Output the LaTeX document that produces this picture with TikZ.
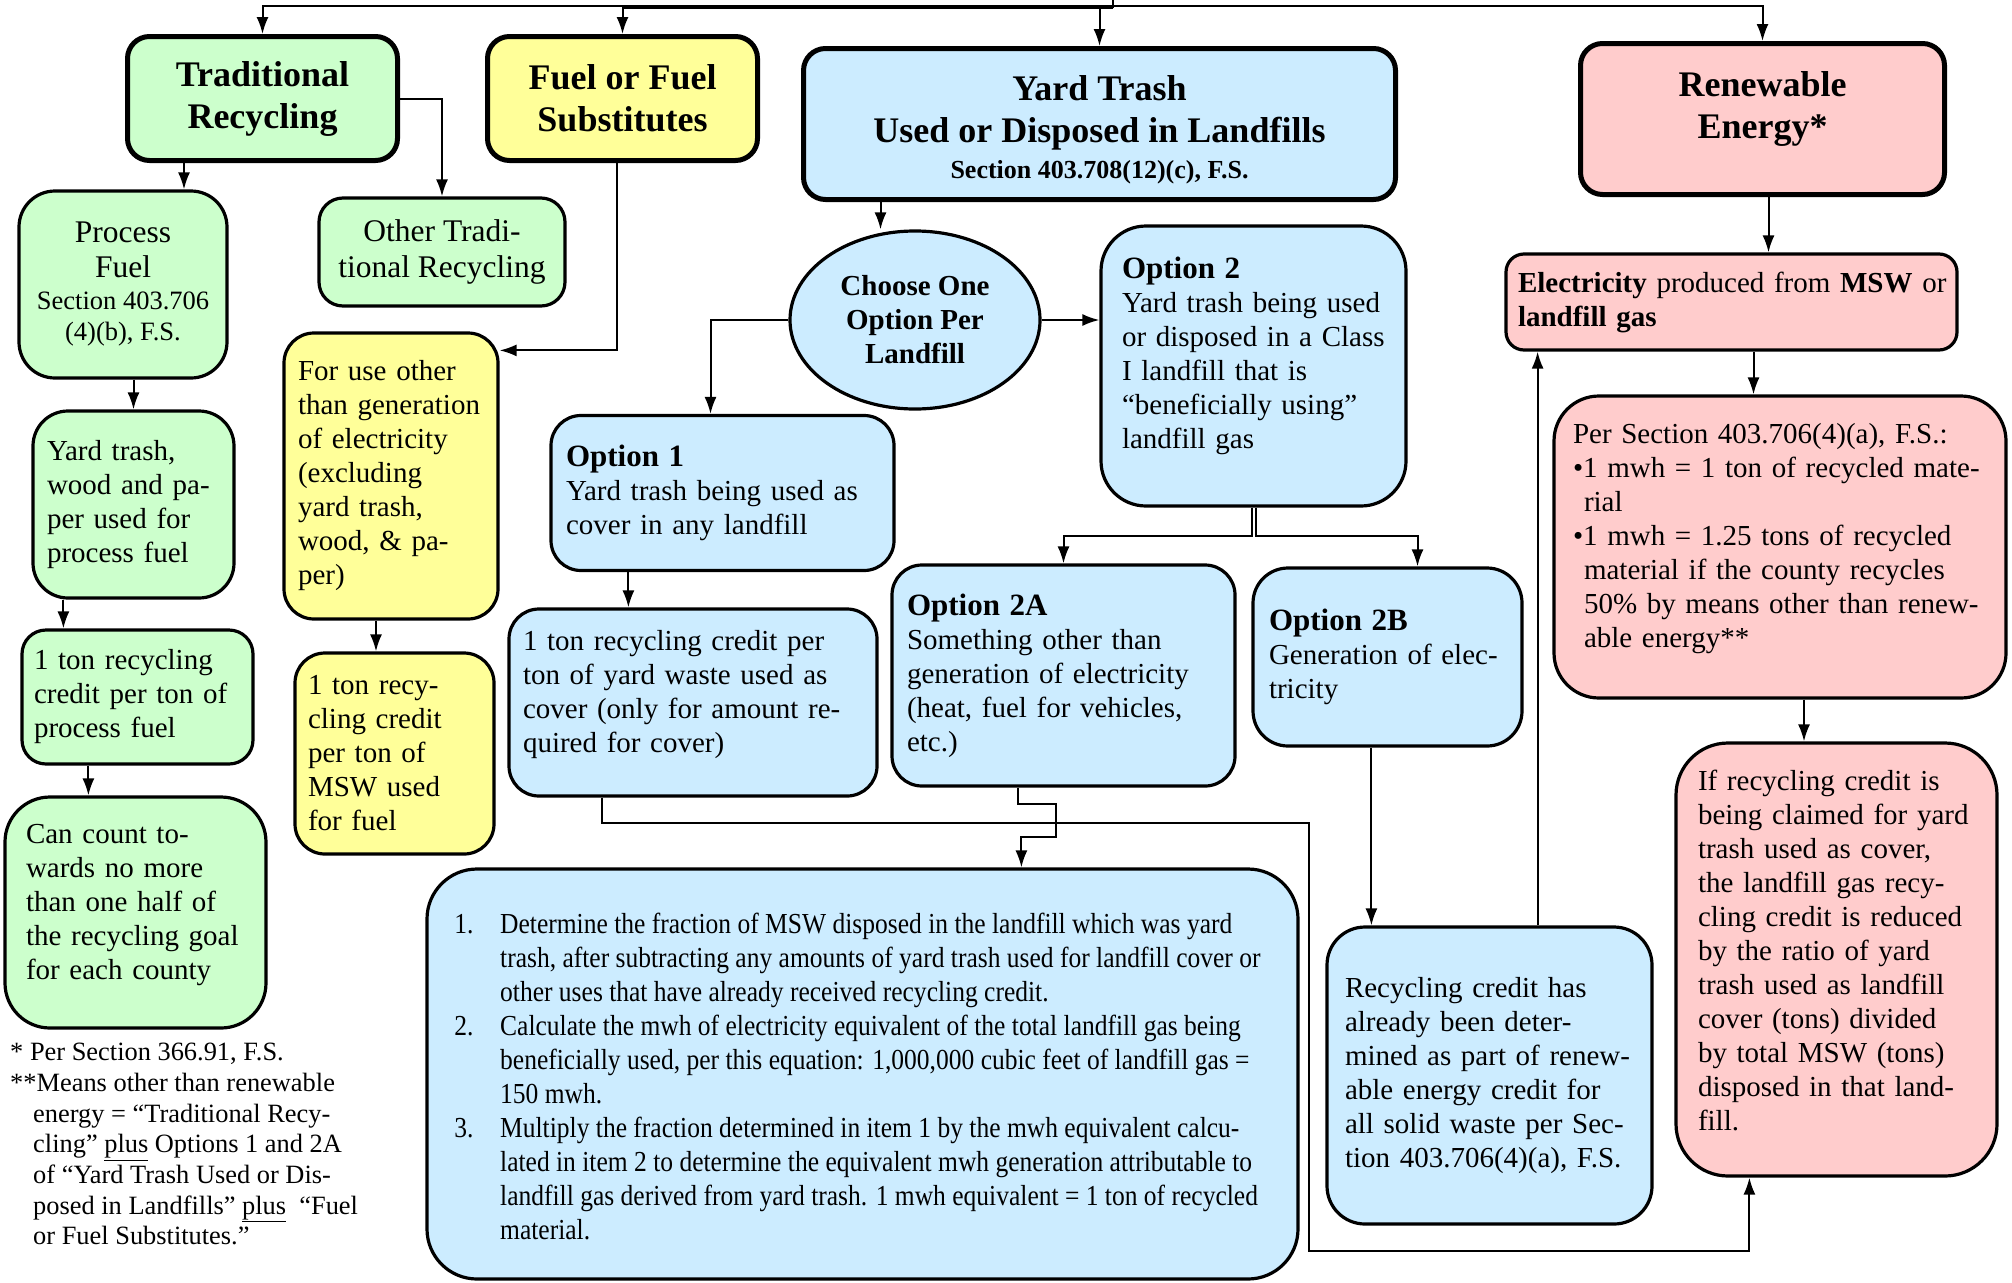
\documentclass[tikz,border=0pt]{standalone}
\usepackage{fontspec}
\usepackage{graphicx}
\setmainfont{Liberation Serif}
\usetikzlibrary{arrows.meta,shapes.geometric}

\definecolor{recgreen}{RGB}{204,255,204}
\definecolor{fuelyellow}{RGB}{255,255,153}
\definecolor{yardblue}{RGB}{204,236,255}
\definecolor{energypink}{RGB}{255,204,204}

\def\bodyfont{\fontsize{29}{34}\selectfont}
\def\headfont{\fontsize{36}{42}\selectfont\bfseries}
\def\opthead#1{{\fontsize{31}{34}\selectfont\bfseries #1}}
\def\stepindent{52pt}

\begin{document}
\begin{tikzpicture}[x=1pt,y=-1pt,>={Latex[length=17pt,width=12pt]}]
    \tikzstyle{box}=[rectangle,draw=black,line width=3.2pt,rounded corners=28pt,inner sep=0pt,font=\bodyfont]
    \tikzstyle{textbox}=[box,align=left]
    \tikzstyle{headbox}=[box,line width=5pt,rounded corners=22pt,font=\headfont,align=center]
    \tikzstyle{conn}=[line width=2pt]
    \useasboundingbox (0,0) rectangle (2012,1282);

    \node[headbox,fill=recgreen,minimum width=270pt,minimum height=124pt] (trad) at (262.5,98.5) {Traditional\\Recycling};
    \node[headbox,fill=fuelyellow,minimum width=270pt,minimum height=124pt] (fuel) at (622.5,98.5) {Fuel or Fuel\\Substitutes};
    \node[headbox,fill=yardblue,minimum width=592pt,minimum height=151pt] (yard) at (1099.5,124) {\rule{0pt}{36.5pt}Yard Trash\\Used or Disposed in Landfills\\[-6pt]{\fontsize{26}{30}\selectfont Section 403.708(12)(c), F.S.}};
    \node[headbox,fill=energypink,text depth=28pt,minimum width=364pt,minimum height=151pt] (renew) at (1762.5,119) {Renewable\\Energy*};

    \node[box,fill=recgreen,align=center,rounded corners=36pt,font=\fontsize{31.5}{35}\selectfont,minimum width=208pt,minimum height=187pt] (pfuel) at (123,284.5) {Process\\Fuel\\[-3pt]{\fontsize{26.5}{31}\selectfont Section 403.706}\\[-4pt]{\fontsize{26.5}{31}\selectfont (4)(b), F.S.}};
    \node[box,fill=recgreen,align=center,rounded corners=24pt,font=\fontsize{31.5}{36}\selectfont,minimum width=246pt,minimum height=108pt] (otrad) at (442,252) {Other Tradi-\\tional Recycling};
    \node[textbox,fill=fuelyellow,rounded corners=30pt,text width=186pt,minimum width=214pt,minimum height=286pt] (foruse) at (391,476) {For use other\\than generation\\of electricity\\(excluding\\yard trash,\\wood, \& pa-\\per)};
    \node[box,ellipse,fill=yardblue,align=center,font=\fontsize{29}{34}\selectfont\bfseries,minimum width=250pt,minimum height=178pt] (choose) at (915,320) {Choose One\\Option Per\\Landfill};
    \node[textbox,fill=yardblue,rounded corners=45pt,text width=263pt,text depth=196pt,minimum width=305pt,minimum height=280pt] (opt2) at (1253.5,366) {\opthead{Option 2}\\Yard trash being used\\or disposed in a Class\\I landfill that is\\“beneficially using”\\landfill gas};
    \node[textbox,fill=energypink,rounded corners=18pt,text width=427pt,minimum width=451pt,minimum height=96pt] (elec) at (1731.5,302) {\mbox{\textbf{Electricity} produced from \textbf{MSW} or}\\\textbf{landfill gas}};
    \node[textbox,fill=yardblue,rounded corners=30pt,text width=313pt,minimum width=343pt,minimum height=155pt] (opt1) at (722.5,493) {\opthead{Option 1}\\Yard trash being used as\\cover in any landfill};
    \node[textbox,fill=energypink,rounded corners=45pt,text width=414pt,text depth=228pt,minimum width=452pt,minimum height=302pt] (persec) at (1780,547) {Per Section 403.706(4)(a), F.S.:\\•1 mwh = 1 ton of recycled mate-\\\hspace*{11pt}rial\\•1 mwh = 1.25 tons of recycled\\\hspace*{11pt}material if the county recycles\\\hspace*{11pt}50\% by means other than renew-\\\hspace*{11pt}able energy**};

    \node[textbox,fill=recgreen,rounded corners=35pt,text width=173pt,minimum width=201pt,minimum height=187pt] (ywood) at (133.5,504.5) {Yard trash,\\wood and pa-\\per used for\\process fuel};
    \node[textbox,fill=recgreen,rounded corners=24pt,text width=207pt,minimum width=231pt,minimum height=134pt] (tonpf) at (137.5,697) {1 ton recycling\\credit per ton of\\process fuel};
    \node[textbox,fill=fuelyellow,rounded corners=30pt,text width=173pt,minimum width=199pt,minimum height=201pt] (tonmsw) at (394.5,753.5) {1 ton recy-\\cling credit\\per ton of\\MSW used\\for fuel};
    \node[textbox,fill=recgreen,rounded corners=45pt,text width=219pt,text depth=158pt,minimum width=261pt,minimum height=231pt] (can) at (135.5,912.5) {Can count to-\\wards no more\\than one half of\\the recycling goal\\for each county};
    \node[textbox,fill=yardblue,rounded corners=30pt,text width=340pt,text depth=124pt,minimum width=368pt,minimum height=187pt] (tonyw) at (693,702.5) {1 ton recycling credit per\\ton of yard waste used as\\cover (only for amount re-\\quired for cover)};
    \node[textbox,fill=yardblue,rounded corners=30pt,text width=313pt,minimum width=343pt,minimum height=221pt] (opt2a) at (1063.5,675.5) {\opthead{Option 2A}\\Something other than\\generation of electricity\\(heat, fuel for vehicles,\\etc.)};
    \node[textbox,fill=yardblue,rounded corners=35pt,text width=237pt,minimum width=269pt,minimum height=178pt] (opt2b) at (1387.5,657) {\opthead{Option 2B}\\Generation of elec-\\tricity};

    \node[box,fill=yardblue,rounded corners=50pt,text height=36pt,minimum width=871pt,minimum height=410pt] (steps) at (862.5,1074) {\scalebox{0.88}[1]{\begin{tabular}[t]{@{}l@{}}
        \makebox[\stepindent][l]{1.}Determine the fraction of MSW disposed in the landfill which was yard\\
        \hspace*{\stepindent}trash, after subtracting any amounts of yard trash used for landfill cover or\\
        \hspace*{\stepindent}other uses that have already received recycling credit.\\
        \makebox[\stepindent][l]{2.}Calculate the mwh of electricity equivalent of the total landfill gas being\\
        \hspace*{\stepindent}beneficially used, per this equation: 1,000,000 cubic feet of landfill gas =\\
        \hspace*{\stepindent}150 mwh.\\
        \makebox[\stepindent][l]{3.}Multiply the fraction determined in item 1 by the mwh equivalent calcu-\\
        \hspace*{\stepindent}lated in item 2 to determine the equivalent mwh generation attributable to\\
        \hspace*{\stepindent}landfill gas derived from yard trash. 1 mwh equivalent = 1 ton of recycled\\
        \hspace*{\stepindent}material.
        \end{tabular}}\hspace*{10pt}};
    \node[textbox,fill=yardblue,rounded corners=38pt,text width=289pt,minimum width=325pt,minimum height=297pt] (reccred) at (1489.5,1075.5) {Recycling credit has\\already been deter-\\mined as part of renew-\\able energy credit for\\all solid waste per Sec-\\tion 403.706(4)(a), F.S.};
    \node[textbox,fill=energypink,rounded corners=52pt,text width=277pt,text depth=359pt,minimum width=321pt,minimum height=433pt] (ifrec) at (1836.5,959.5) {If recycling credit is\\being claimed for yard\\trash used as cover,\\the landfill gas recy-\\cling credit is reduced\\by the ratio of yard\\trash used as landfill\\cover (tons) divided\\by total MSW (tons)\\disposed in that land-\\fill.};

    \node[anchor=north west,align=left,inner sep=0pt,font=\fontsize{26.4}{30.7}\selectfont] (notes) at (10,1043) {* Per Section 366.91, F.S.\\**Means other than renewable\\\hspace*{23pt}energy = “Traditional Recy-\\\hspace*{23pt}cling” \underline{plus} Options 1 and 2A\\\hspace*{23pt}of “Yard Trash Used or Dis-\\\hspace*{23pt}posed in Landfills” \underline{plus}~ “Fuel\\\hspace*{23pt}or Fuel Substitutes.”};

    \coordinate (feed) at (1113,0);
    \coordinate (bus) at (1113,6);
    \coordinate (bus2) at (1113,8);
    \coordinate (fork) at ([yshift=-28pt]opt2.south);
    \coordinate (detour) at (1309,1251);

    \draw[conn] (feed) -- (bus2);
    \draw[conn,->] (bus) -| (trad.north);
    \draw[conn,->] (bus2) -| (fuel.north);
    \draw[conn,->] (bus2) -| (yard.north);
    \draw[conn,->] (bus) -| (renew.north);

    \draw[conn,->] ([xshift=59pt]trad.south west) coordinate (a1) -- (a1 |- pfuel.north);
    \draw[conn,->] (trad.east) -| (otrad.north);
    \draw[conn,->] ([xshift=-6pt]fuel.south) |- ([yshift=-19pt]foruse.north east);
    \draw[conn,->] (pfuel.south -| ywood.north) -- (ywood.north);
    \draw[conn,->] ([xshift=32pt]ywood.south west) coordinate (a2) -- (a2 |- tonpf.north);
    \draw[conn,->] ([xshift=68pt]tonpf.south west) coordinate (a3) -- (a3 |- can.north);
    \draw[conn,->] ([xshift=-15pt]foruse.south) coordinate (a4) -- (a4 |- tonmsw.north);

    \draw[conn,->] ([xshift=-219pt]yard.south) coordinate (a5) -- (a5 |- choose.north);
    \draw[conn,->] (choose.west) -| ([xshift=-12pt]opt1.north);
    \draw[conn,->] (choose.east) -- (choose.east -| opt2.west);
    \draw[conn,->] ([xshift=-2pt]opt2.south) -- ([xshift=-2pt]fork) -| (opt2a.north);
    \draw[conn,->] ([xshift=2pt]opt2.south) -- ([xshift=2pt]fork) -| ([xshift=30pt]opt2b.north);
    \draw[conn,->] ([xshift=79pt]opt1.south west) coordinate (a9) -- (a9 |- tonyw.north);
    \draw[conn,->] ([xshift=120pt]opt2b.south west) coordinate (a10) -- (a10 |- reccred.north);
    \draw[conn,->] ([xshift=-116pt]reccred.north east) coordinate (a11) -- (a11 |- elec.south);
    \draw[conn,->] ([xshift=128pt]opt2a.south west) -- ++(0,16) -| ++(38,33) -| ([xshift=596pt]steps.north west);
    \draw[conn,->] ([xshift=95pt]tonyw.south west) -- ++(0,25) -| (detour) -| ([xshift=75pt]ifrec.south west);

    \draw[conn,->] ([xshift=6pt]renew.south) coordinate (a6) -- (a6 |- elec.north);
    \draw[conn,->] ([xshift=22pt]elec.south) coordinate (a7) -- (a7 |- persec.north);
    \draw[conn,->] ([xshift=24pt]persec.south) coordinate (a8) -- (a8 |- ifrec.north);
\end{tikzpicture}
\end{document}
